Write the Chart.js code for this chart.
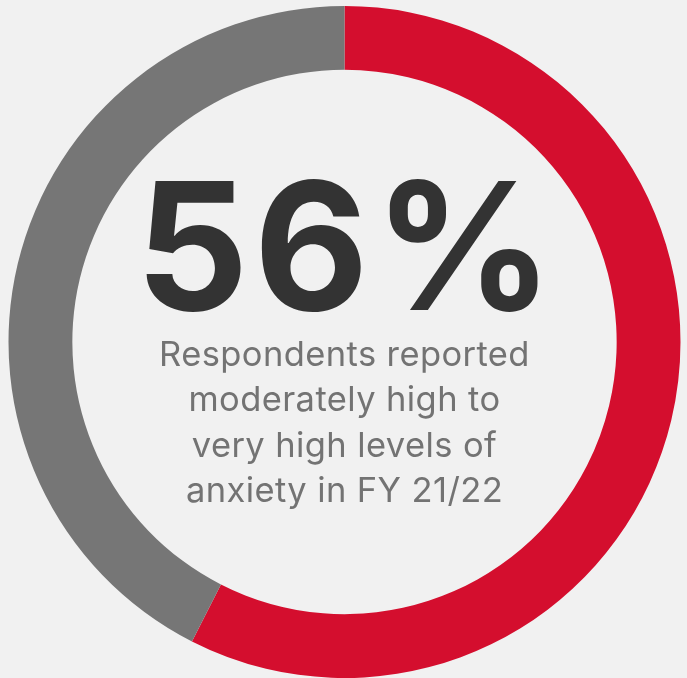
<!DOCTYPE html>
<html>
<head>
<meta charset="utf-8">
<script src="https://cdn.jsdelivr.net/npm/chart.js@4"></script>
<style>
  html, body { margin: 0; padding: 0; background: #f1f1f1; }
  .wrap { position: relative; width: 687px; height: 678px; overflow: hidden; }
  canvas { position: absolute; left: 0; top: 0; }
  .big {
    position: absolute; left: 0; width: 694px; top: 158px;
    text-align: center; font-family: Inter, sans-serif; font-weight: 700;
    font-size: 177px; line-height: 177px; color: #333333; letter-spacing: 5px;
  }
  .sub {
    position: absolute; left: 0; width: 689px; top: 331px;
    text-align: center; font-family: Inter, sans-serif; font-weight: 400;
    font-size: 34.5px; line-height: 45.3px; color: #737373; letter-spacing: 0.4px;
  }
</style>
</head>
<body>
<div class="wrap">
  <canvas id="donut" width="687" height="678"></canvas>
  <div class="big" id="big"></div>
  <div class="sub" id="sub"></div>
</div>
<script>
// valores
const categories = ['Moderately high to very high anxiety', 'Other'];
const values = [57.5, 42.5];
const colors = ['#d40e2e', '#767676'];
const headline = '56%';
const caption = ['Respondents reported', 'moderately high to', 'very high levels of', 'anxiety in FY 21/22'];

document.getElementById('big').textContent = headline;
document.getElementById('sub').innerHTML = caption.join('<br>');

const donutData = {
  labels: categories,
  datasets: [
    {
      data: values,
      backgroundColor: colors,
      borderWidth: 0,
    },
  ],
};

const donutConfig = {
  type: 'doughnut',
  data: donutData,
  options: {
    responsive: false,
    animation: false,
    cutout: '81%',
    layout: {
      padding: { top: 6, bottom: 0, left: 8, right: 6 },
    },
    plugins: {
      legend: { display: false },
      tooltip: { enabled: false },
    },
  },
};

new Chart(document.getElementById('donut'), donutConfig);
</script>
</body>
</html>
